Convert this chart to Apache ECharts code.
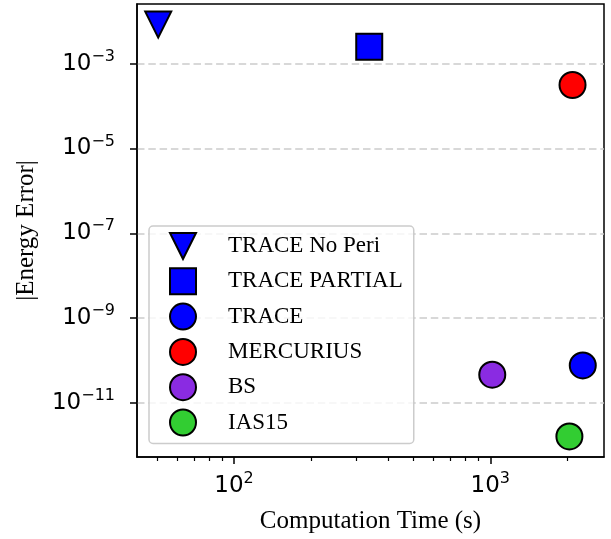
<!DOCTYPE html>
<html>
<head>
<meta charset="utf-8">
<script src="https://cdn.jsdelivr.net/npm/echarts@6/dist/echarts.min.js"></script>
<style>
html,body{margin:0;padding:0;background:#fff;}
#chart{width:611px;height:539px;}
</style>
</head>
<body>
<div id="chart"></div>
<script>
// ---- data ----
const methods = ['TRACE No Peri', 'TRACE PARTIAL', 'TRACE', 'MERCURIUS', 'BS', 'IAS15'];
const times   = [50.6, 337, 2296, 2094, 1018, 2036];            // Computation Time (s)
const errors  = [8.3e-3, 2.5e-3, 7.7e-11, 3.13e-4, 4.67e-11, 1.64e-12]; // |Energy Error|
const xMajorTicks = [100, 1000];
const xMinorTicks = [50, 60, 70, 80, 90, 200, 300, 400, 500, 600, 700, 800, 900, 2000];
const yMajorTicks = [1e-3, 1e-5, 1e-7, 1e-9, 1e-11];

// ---- styles ----
const downTriangle = 'path://M0,0 L2,0 L1,2 Z';
const markerStyle = {
  'TRACE No Peri': {symbol: 'triangle', rotate: 180, icon: downTriangle, color: '#0000ff'},
  'TRACE PARTIAL': {symbol: 'rect', rotate: 0, icon: 'rect', color: '#0000ff'},
  'TRACE':         {symbol: 'circle', rotate: 0, icon: 'circle', color: '#0000ff'},
  'MERCURIUS':     {symbol: 'circle', rotate: 0, icon: 'circle', color: '#ff0000'},
  'BS':            {symbol: 'circle', rotate: 0, icon: 'circle', color: '#8a2be2'},
  'IAS15':         {symbol: 'circle', rotate: 0, icon: 'circle', color: '#32cd32'}
};

function logRange(vals) {
  const l = vals.map(v => Math.log10(v));
  const lo = Math.min(...l), hi = Math.max(...l);
  const m = 0.05 * (hi - lo);
  return [Math.pow(10, lo - m), Math.pow(10, hi + m)];
}
const xr = logRange(times);
const yr = logRange(errors);

function powLabel(v) {
  const e = Math.round(Math.log10(v));
  return '{b|10}{s|' + String(e).replace('-', '\u2212') + '}';
}
const tickRich = {
  b: {fontFamily: 'DejaVu Sans', fontSize: 23, color: '#000', lineHeight: 30},
  s: {fontFamily: 'DejaVu Sans', fontSize: 16, color: '#000', lineHeight: 16, verticalAlign: 'top'}
};

const series = methods.map((name, i) => ({
  name: name,
  type: 'scatter',
  xAxisIndex: 0,
  yAxisIndex: 0,
  symbol: markerStyle[name].symbol,
  symbolRotate: markerStyle[name].rotate,
  symbolSize: 26,
  itemStyle: {color: markerStyle[name].color, borderColor: '#000', borderWidth: 2, opacity: 1},
  emphasis: {disabled: true},
  data: [[times[i], errors[i]]]
}));

const chart = echarts.init(document.getElementById('chart'), null, {renderer: 'canvas'});
chart.setOption({
  animation: false,
  backgroundColor: '#ffffff',
  grid: {
    left: 137, right: 7, top: 4, bottom: 82,
    show: true, borderColor: '#000', borderWidth: 1.5, backgroundColor: 'transparent',
    containLabel: false, outerBoundsMode: 'none'
  },
  xAxis: [{
    type: 'log',
    position: 'bottom',
    min: xr[0], max: xr[1],
    name: 'Computation Time (s)',
    nameLocation: 'middle',
    nameGap: 52,
    nameTextStyle: {fontFamily: 'Liberation Serif', fontSize: 25, color: '#000'},
    axisLine: {show: true, lineStyle: {color: '#000', width: 1.5}},
    axisTick: {show: true, inside: false, length: 7, lineStyle: {color: '#000', width: 1.5}, customValues: xMajorTicks},
    axisLabel: {show: true, margin: 14, customValues: xMajorTicks, formatter: powLabel, rich: tickRich},
    splitLine: {show: false},
    minorTick: {show: false}
  }, {
    type: 'log',
    position: 'bottom',
    min: xr[0], max: xr[1],
    axisLine: {show: false},
    axisTick: {show: true, inside: false, length: 4, lineStyle: {color: '#000', width: 1.2}, customValues: xMinorTicks},
    axisLabel: {show: false},
    splitLine: {show: false}
  }],
  yAxis: [{
    type: 'log',
    position: 'left',
    min: yr[0], max: yr[1],
    name: '|Energy Error|',
    nameLocation: 'middle',
    nameGap: 98,
    nameTextStyle: {fontFamily: 'Liberation Serif', fontSize: 25, color: '#000'},
    axisLine: {show: true, lineStyle: {color: '#000', width: 1.5}},
    axisTick: {show: true, inside: false, length: 7, lineStyle: {color: '#000', width: 1.5}, customValues: yMajorTicks},
    axisLabel: {show: true, margin: 22, customValues: yMajorTicks, formatter: powLabel, rich: tickRich},
    splitLine: {show: true, lineStyle: {color: '#cccccc', width: 1.5, type: [7.5, 3.8]}},
    minorTick: {show: false}
  }],
  legend: {
    show: true,
    orient: 'vertical',
    left: 149,
    top: 226,
    padding: [6, 11, 7, 20],
    itemGap: 7.3,
    itemWidth: 26,
    itemHeight: 26,
    itemStyle: {borderColor: '#000', borderWidth: 2},
    backgroundColor: 'rgba(255,255,255,0.8)',
    borderColor: '#cccccc',
    borderWidth: 1.5,
    borderRadius: 4,
    data: methods.map(name => ({name: name, icon: markerStyle[name].icon})),
    formatter: name => '{sp|}{t|' + name + '}',
    textStyle: {
      color: '#000',
      rich: {
        sp: {width: 27},
        t: {fontFamily: 'Liberation Serif', fontSize: 23, color: '#000', lineHeight: 26}
      }
    }
  },
  series: series
});
</script>
</body>
</html>
